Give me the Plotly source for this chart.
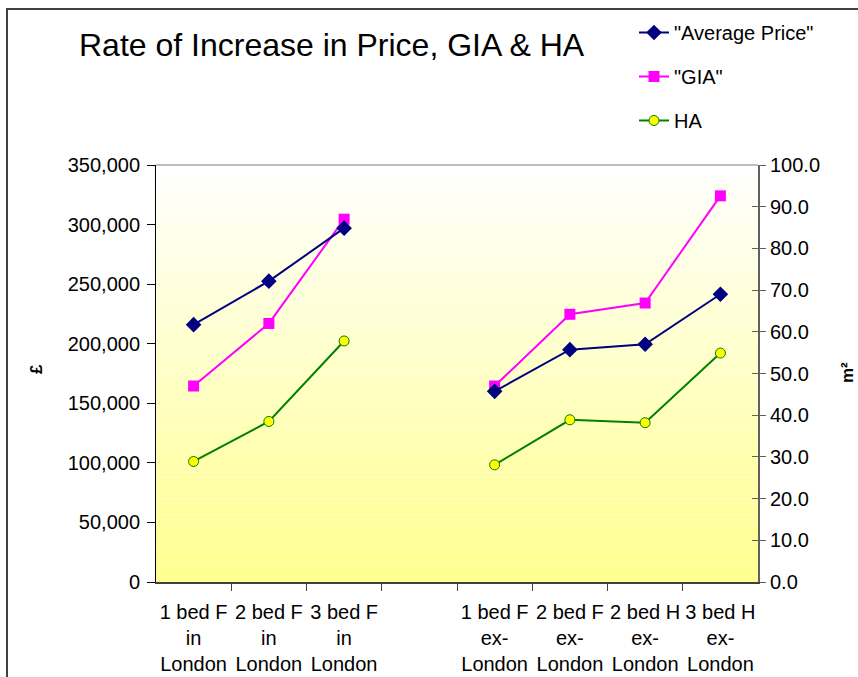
import plotly.graph_objects as go

categories = ["1 bed F<br>in<br>London", "2 bed F<br>in<br>London", "3 bed F<br>in<br>London", " ",
              "1 bed F<br>ex-<br>London", "2 bed F<br>ex-<br>London", "2 bed H<br>ex-<br>London",
              "3 bed H<br>ex-<br>London"]
avg_price = [216000, 252500, 297000, None, 160000, 195000, 199500, 241500]
gia = [47.0, 62.0, 87.0, None, 47.0, 64.2, 66.9, 92.6]
ha = [28.9, 38.5, 57.8, None, 28.1, 38.9, 38.2, 54.9]

price_ticks = list(range(0, 350001, 50000))
area_ticks = list(range(0, 101, 10))

FONT = "Liberation Sans, Arial, sans-serif"
W, H = 858, 677
L, R, T, B = 156, 100, 165, 95
PW, PH = W - L - R, H - T - B

def px_x(px):
    return (px - L) / PW

def px_y(py):
    return (H - B - py) / PH

fig = go.Figure()
fig.add_trace(go.Scatter(x=categories, y=avg_price, name='"Average Price"', yaxis="y2",
                         mode="lines+markers", line=dict(color="#000080", width=2),
                         marker=dict(symbol="diamond", size=12, color="#000080"),
                         legendgroup="a"))
fig.add_trace(go.Scatter(x=categories, y=gia, name='"GIA"', yaxis="y",
                         mode="lines+markers", line=dict(color="#FF00FF", width=2),
                         marker=dict(symbol="square", size=11, color="#FF00FF"),
                         legendgroup="b"))
fig.add_trace(go.Scatter(x=categories, y=ha, name="HA", yaxis="y",
                         mode="lines+markers", line=dict(color="#008000", width=2),
                         marker=dict(symbol="circle", size=10, color="#FFFF00",
                                     line=dict(color="#008000", width=1)),
                         legendgroup="c"))
fig.add_trace(go.Scatter(x=[], y=[], yaxis="y3", showlegend=False, hoverinfo="skip"))

# gradient background bands
shapes = []
n = 80
for i in range(n):
    t0 = i / n
    t1 = (i + 1) / n
    f = 1 - (i + 0.5) / n  # 1 at bottom, 0 at top
    b = round(255 - 115 * f)
    shapes.append(dict(type="rect", xref="x domain", yref="y domain", x0=0, x1=1, y0=t0, y1=t1,
                       fillcolor=f"rgb(255,255,{b})", line=dict(width=0), layer="below"))
shapes.append(dict(type="line", xref="x domain", yref="y domain", x0=0, x1=1, y0=1, y1=1,
                   line=dict(color="#808080", width=1)))
shapes.append(dict(type="rect", xref="paper", yref="paper", x0=px_x(7), x1=px_x(900),
                   y0=px_y(720), y1=px_y(9), line=dict(color="#404040", width=2)))

fig.update_layout(
    width=W, height=H,
    margin=dict(l=L, r=R, t=T, b=B, autoexpand=False),
    paper_bgcolor="white", plot_bgcolor="white",
    font=dict(family=FONT, size=20, color="black"),
    showlegend=True,
    legend=dict(x=px_x(634), y=px_y(13), xanchor="left", yanchor="top",
                font=dict(size=20, family=FONT), tracegroupgap=15,
                bgcolor="rgba(0,0,0,0)", itemwidth=30),
    xaxis=dict(type="category", categoryorder="array", categoryarray=categories,
               tickson="boundaries", ticks="outside", ticklen=7, tickcolor="#404040",
               showline=True, linecolor="#404040", linewidth=2, showgrid=False,
               tickangle=0, ticklabelstandoff=11,
               tickfont=dict(size=20, family=FONT), dtick=1, fixedrange=True),
    yaxis=dict(side="right", range=[0, 100], tickvals=area_ticks, tickformat=".1f",
               ticks="outside", ticklen=6, tickcolor="#606060",
               showline=True, linecolor="#606060", linewidth=2, showgrid=False,
               zeroline=False, tickfont=dict(size=20, family=FONT)),
    yaxis2=dict(side="left", overlaying="y", range=[0, 350000], tickvals=price_ticks,
                tickformat=",", ticks="outside", ticklen=8, tickcolor="black",
                showline=True, linecolor="black", linewidth=1, showgrid=False,
                zeroline=False, ticklabelstandoff=3, tickfont=dict(size=20, family=FONT)),
    yaxis3=dict(side="right", overlaying="y", range=[0, 100], tickvals=area_ticks,
                ticks="inside", ticklen=6, tickcolor="#606060", showticklabels=False,
                showline=False, showgrid=False, zeroline=False),
    shapes=shapes,
    annotations=[
        dict(text="Rate of Increase in Price, GIA & HA", xref="paper", yref="paper",
             x=px_x(332), y=px_y(45), xanchor="center", yanchor="middle", showarrow=False,
             font=dict(size=32, family=FONT, color="black")),
        dict(text="<b>£</b>", xref="paper", yref="paper", x=px_x(36), y=px_y(369),
             xanchor="center", yanchor="middle", textangle=-90, showarrow=False,
             font=dict(size=17, family=FONT, color="black")),
        dict(text="<b>m²</b>", xref="paper", yref="paper", x=px_x(847), y=px_y(373),
             xanchor="center", yanchor="middle", textangle=-90, showarrow=False,
             font=dict(size=17, family=FONT, color="black")),
    ],
)

fig.write_html("out.html", config={"displayModeBar": False},
               post_script="document.body.style.margin='0';document.body.style.overflow='hidden';")
